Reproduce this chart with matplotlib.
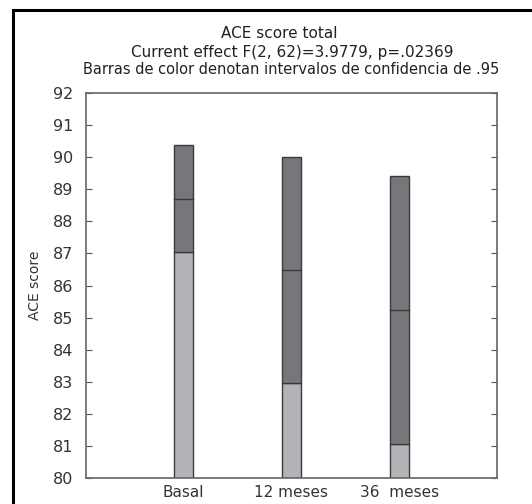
import matplotlib
matplotlib.use("Agg")
import matplotlib.pyplot as plt
from matplotlib.lines import Line2D

categories = ["Basal", "12 meses", "36  meses"]
lower_ci = [87.05, 82.95, 81.05]
means = [88.7, 86.47, 85.25]
upper_ci = [90.37, 90.0, 89.4]
yticks = list(range(80, 93))

W, H = 532, 504
fig = plt.figure(figsize=(W / 100, H / 100), dpi=100)
fig.patch.set_facecolor("white")

# outer frame
fig.add_artist(Line2D([13 / W, 13 / W], [0, 1 - 10 / H], color="black", lw=2.2, transform=fig.transFigure))
fig.add_artist(Line2D([13 / W, 530 / W], [1 - 10 / H, 1 - 10 / H], color="black", lw=2.2, transform=fig.transFigure))

ax = fig.add_axes([86 / W, 1 - 478 / H, (497 - 86) / W, (478 - 93) / H])
ax.set_xlim(0.1, 3.9)
ax.set_ylim(80, 92)

light = "#b3b4b7"
dark = "#76777b"
edge = "#3a3a3c"
x = [1, 2, 3]
width = 0.18
ax.bar(x, [l - 80 for l in lower_ci], bottom=80, width=width, color=light, edgecolor=edge, linewidth=1.0, zorder=2)
ax.bar(x, [u - l for u, l in zip(upper_ci, lower_ci)], bottom=lower_ci, width=width,
       color=dark, edgecolor=edge, linewidth=1.0, zorder=2)
for xi, m in zip(x, means):
    ax.plot([xi - width / 2, xi + width / 2], [m, m], color="#3a3a3c", lw=1.0, zorder=3)

ax.set_yticks(yticks)
ax.set_yticklabels([str(t) for t in yticks], fontsize=11.5, color="#333333")
ax.set_xticks(x)
ax.set_xticklabels(categories, fontsize=11, color="#333333")
ax.tick_params(axis="x", length=0, pad=5)
ax.tick_params(axis="y", direction="in", length=4, width=0.8, color="#555555", right=True, pad=9)
for s in ax.spines.values():
    s.set_color("#666666")
    s.set_linewidth(1.2)

ax.set_ylabel("ACE score", fontsize=10, color="#333333", labelpad=8)

fig.text(279 / W, 1 - 33 / H, "ACE score total", ha="center", va="center", fontsize=11, color="#222222")
fig.text(292 / W, 1 - 52 / H, "Current effect F(2, 62)=3.9779, p=.02369", ha="center", va="center", fontsize=11, color="#222222")
fig.text(291 / W, 1 - 70 / H, "Barras de color denotan intervalos de confidencia de .95", ha="center", va="center", fontsize=10.5, color="#222222")

fig.savefig("out.png", dpi=100)
